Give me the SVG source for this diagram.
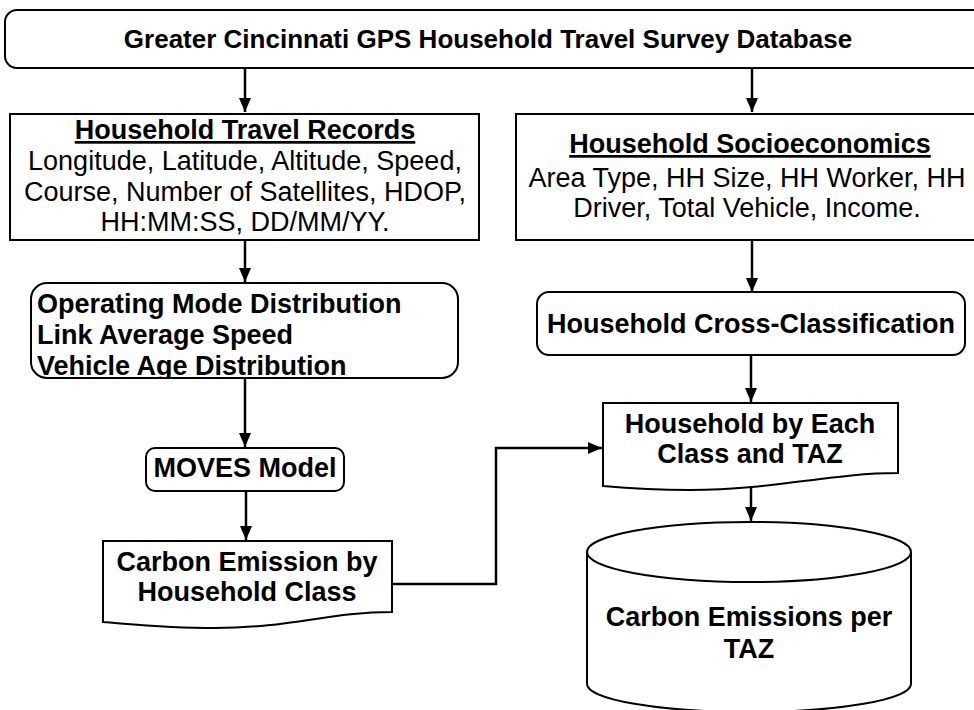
<svg xmlns="http://www.w3.org/2000/svg" width="974" height="710" viewBox="0 0 974 710">
<style>
.box{fill:#fff;stroke:#000;stroke-width:2}
.t{font-family:"Liberation Sans",Arial,sans-serif;font-size:27px;fill:#000}
.h{font-size:26px}
.b{font-weight:bold}
.c{text-anchor:middle}
.con{fill:none;stroke:#000;stroke-width:2.5}
</style>
<defs>
<marker id="ah" viewBox="0 0 14 12" refX="14" refY="6" markerWidth="14" markerHeight="12" markerUnits="userSpaceOnUse" orient="auto">
<path d="M0,0 L14,6 L0,12 Z" fill="#000"/>
</marker>
<clipPath id="clipOp"><rect x="31" y="283" width="427" height="95" rx="16"/></clipPath>
</defs>
<rect width="974" height="710" fill="#fff"/>
<g id="connectors">
<line class="con" x1="245" y1="68" x2="245" y2="112" marker-end="url(#ah)"/>
<line class="con" x1="752" y1="68" x2="752" y2="112" marker-end="url(#ah)"/>
<line class="con" x1="245" y1="240" x2="245" y2="282" marker-end="url(#ah)"/>
<line class="con" x1="752" y1="240" x2="752" y2="292" marker-end="url(#ah)"/>
<line class="con" x1="751" y1="355" x2="751" y2="402" marker-end="url(#ah)"/>
<line class="con" x1="245" y1="378" x2="245" y2="447" marker-end="url(#ah)"/>
<line class="con" x1="246" y1="491" x2="246" y2="540" marker-end="url(#ah)"/>
<polyline class="con" points="392,584 496,584 496,448 602,448" marker-end="url(#ah)"/>
<line class="con" x1="751" y1="485" x2="751" y2="521" marker-end="url(#ah)"/>
</g>
<g id="database">
<rect class="box" x="5" y="10" width="985" height="58" rx="12"/>
<text class="t h b c" x="488" y="48">Greater Cincinnati GPS Household Travel Survey Database</text>
</g>
<g id="travel-records">
<rect class="box" x="10" y="114" width="469" height="126"/>
<text class="t b c" x="245" y="139" text-decoration="underline">Household Travel Records</text>
<text class="t c" x="245" y="170">Longitude, Latitude, Altitude, Speed,</text>
<text class="t c" x="245" y="201">Course, Number of Satellites, HDOP,</text>
<text class="t c" x="245" y="231">HH:MM:SS, DD/MM/YY.</text>
</g>
<g id="socioeconomics">
<rect class="box" x="516" y="114" width="470" height="126"/>
<text class="t b c" x="750" y="153" text-decoration="underline">Household Socioeconomics</text>
<text class="t c" x="747" y="187">Area Type, HH Size, HH Worker, HH</text>
<text class="t c" x="747" y="217">Driver, Total Vehicle, Income.</text>
</g>
<g id="operating">
<rect class="box" x="31" y="283" width="427" height="95" rx="16"/>
<g clip-path="url(#clipOp)">
<text class="t b" x="37" y="313">Operating Mode Distribution</text>
<text class="t b" x="37" y="344">Link Average Speed</text>
<text class="t b" x="37" y="375">Vehicle Age Distribution</text>
</g>
</g>
<g id="cross-class">
<rect class="box" x="537" y="292" width="428" height="63" rx="12"/>
<text class="t b c" x="751" y="333">Household Cross-Classification</text>
</g>
<g id="moves">
<rect class="box" x="146" y="448" width="198" height="43" rx="9"/>
<text class="t b c" x="245" y="477">MOVES Model</text>
</g>
<g id="emission-class">
<path class="box" d="M103,541 H392 V612 C330,612 290,628 215,628 C165,628 130,624 103,622 Z"/>
<text class="t b c" x="247" y="571">Carbon Emission by</text>
<text class="t b c" x="247" y="601">Household Class</text>
</g>
<g id="hh-class-taz">
<path class="box" d="M603,403 H898 V473 C830,473 775,490 690,490 C650,490 625,488 603,486 Z"/>
<text class="t b c" x="750" y="433">Household by Each</text>
<text class="t b c" x="750" y="463">Class and TAZ</text>
</g>
<g id="emissions-taz">
<path class="box" d="M587,552 V684 A162,28 0 0 0 911,684 V552"/>
<ellipse class="box" cx="749" cy="552" rx="162" ry="30"/>
<text class="t b c" x="749" y="626">Carbon Emissions per</text>
<text class="t b c" x="749" y="658">TAZ</text>
</g>
</svg>
